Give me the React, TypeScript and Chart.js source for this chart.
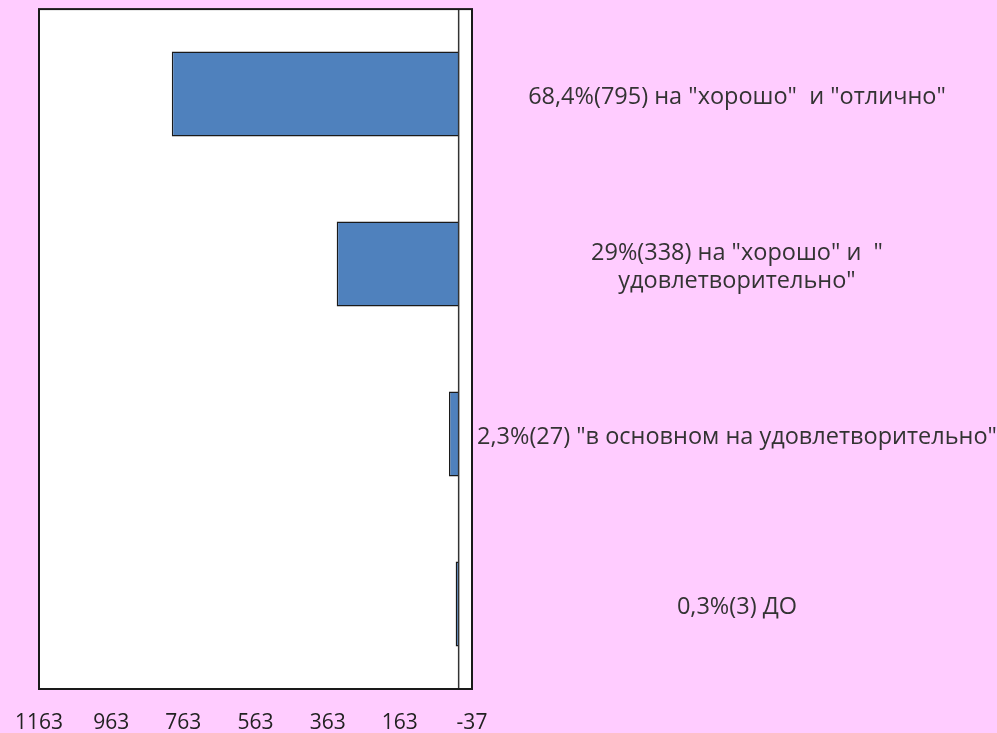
import React, { useEffect, useRef } from "react";
import { Chart, registerables } from "chart.js";

Chart.register(...registerables);

const categories: (string | string[])[] = [
  '68,4%(795) на "хорошо"  и "отлично"',
  ['29%(338) на "хорошо" и  "', 'удовлетворительно"'],
  '2,3%(27) "в основном на удовлетворительно"',
  "0,3%(3) ДО",
];
const values = [795, 338, 27, 3];
const xTicks = [-37, 163, 363, 563, 763, 963, 1163];

const FONT = "'Open Sans', 'DejaVu Sans', sans-serif";

const framePlugin = {
  id: "frame",
  beforeDraw(chart: any) {
    const { ctx, chartArea } = chart;
    ctx.save();
    ctx.fillStyle = "#ffffff";
    ctx.fillRect(chartArea.left, chartArea.top, chartArea.right - chartArea.left, chartArea.bottom - chartArea.top);
    ctx.restore();
  },
  afterDatasetsDraw(chart: any) {
    const { ctx, chartArea, scales } = chart;
    const x0 = scales.x.getPixelForValue(0);
    ctx.save();
    ctx.strokeStyle = "#333333";
    ctx.lineWidth = 1.5;
    ctx.beginPath();
    ctx.moveTo(x0, chartArea.top);
    ctx.lineTo(x0, chartArea.bottom);
    ctx.stroke();
    ctx.strokeStyle = "#1a1a1a";
    ctx.lineWidth = 2;
    ctx.strokeRect(chartArea.left, chartArea.top, chartArea.right - chartArea.left, chartArea.bottom - chartArea.top);
    ctx.restore();
  },
};

export default function App() {
  const ref = useRef<HTMLCanvasElement | null>(null);
  useEffect(() => {
    document.body.style.margin = "0";
    if (!ref.current) return;
    const chart = new Chart(ref.current, {
      type: "bar",
      data: {
        labels: categories,
        datasets: [
          {
            data: values,
            backgroundColor: "#4F81BD",
            borderColor: "#1a1a1a",
            borderWidth: 1.5,
            barPercentage: 0.5,
            categoryPercentage: 1,
            minBarLength: 3,
          },
        ],
      },
      options: {
        indexAxis: "y",
        animation: false,
        responsive: false,
        layout: { padding: { top: 9, left: 39, right: 0, bottom: 0 } },
        plugins: { legend: { display: false }, tooltip: { enabled: false } },
        scales: {
          x: {
            reverse: true,
            min: -37,
            max: 1163,
            afterBuildTicks(scale: any) {
              scale.ticks = xTicks.map((v) => ({ value: v }));
            },
            afterFit(scale: any) {
              scale.height = 44;
            },
            grid: { display: false, drawTicks: false },
            border: { display: false },
            ticks: {
              autoSkip: false,
              maxRotation: 0,
              padding: 21,
              color: "#222222",
              font: { family: FONT, size: 21 },
              callback: (v: any) => String(v),
            },
          },
          y: {
            position: "right",
            afterFit(scale: any) {
              scale.width = 525;
            },
            grid: { display: false, drawTicks: false },
            border: { display: false },
            ticks: {
              crossAlign: "center",
              padding: 5,
              labelOffset: 3,
              color: "#333333",
              font: { family: FONT, size: 23.5, lineHeight: 1.2 },
            },
          },
        },
      },
      plugins: [framePlugin],
    });
    return () => chart.destroy();
  }, []);
  return (
    <div style={{ width: 997, height: 733, background: "#FFCCFF", overflow: "hidden" }}>
      <canvas ref={ref} width={997} height={743} style={{ display: "block", marginTop: -10 }} />
    </div>
  );
}
